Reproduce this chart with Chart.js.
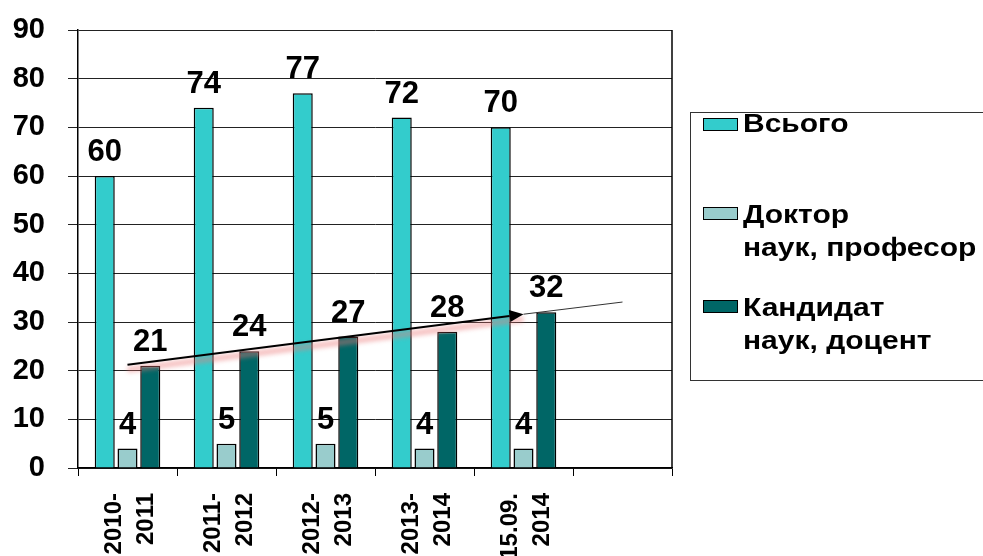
<!DOCTYPE html>
<html>
<head>
<meta charset="utf-8">
<script src="https://cdn.jsdelivr.net/npm/chart.js@4.4.0/dist/chart.umd.min.js"></script>
<style>
  html, body { margin: 0; padding: 0; background: #fff; }
  #wrap { position: relative; width: 983px; height: 556px; overflow: hidden; }
  #legend { position: absolute; left: 690px; top: 112px; width: 320px; height: 269px;
            border: 1px solid #333; box-sizing: border-box; background: #fff; }
  .item { position: absolute; left: 12px; font: bold 25px "Liberation Sans", Arial, sans-serif;
          line-height: 33px; color: #000; }
  .sw { position: absolute; left: 0; top: 9px; width: 35px; height: 13px; border: 1.5px solid #000; box-sizing: border-box; }
  .txt { margin-left: 40px; white-space: nowrap; transform: scaleX(1.2); transform-origin: 0 50%; }
</style>
</head>
<body>
<div id="wrap">
  <canvas id="c" width="983" height="556"></canvas>
  <div id="legend"></div>
</div>
<script>
// ---- data ----
const categories = [["2010-", "2011"], ["2011-", "2012"], ["2012-", "2013"], ["2013-", "2014"], ["15.09.", "2014"], ""];
const totalValues = [60, 74, 77, 72, 70, null];
const doctorValues = [4, 5, 5, 4, 4, null];
const candidateValues = [21, 24, 27, 28, 32, null];
const seriesLabels = [["Всього"], ["Доктор", "наук, професор"], ["Кандидат", "наук, доцент"]];
const yTicks = [0, 10, 20, 30, 40, 50, 60, 70, 80, 90];
// trend arrow: [category index, value]
const trendStart = [0, 21.2];
const trendArrowEnd = [4, 31.6];
const trendLineEnd = [5, 34.1];

const colors = ["#33CCCC", "#99CCCC", "#006666"];
const FONT = '"Liberation Sans", Arial, sans-serif';

const valueLabels = {
  id: 'valueLabels',
  afterDatasetsDraw(chart) {
    const ctx = chart.ctx;
    ctx.save();
    ctx.font = 'bold 31px ' + FONT;
    ctx.fillStyle = '#000';
    ctx.textAlign = 'center';
    ctx.textBaseline = 'alphabetic';
    chart.data.datasets.forEach((ds, di) => {
      chart.getDatasetMeta(di).data.forEach((bar, i) => {
        const v = ds.data[i];
        if (v === null || v === undefined) return;
        ctx.fillText(String(v), bar.x, bar.y - 15);
      });
    });
    ctx.restore();
  }
};

const frameAndTrend = {
  id: 'frameAndTrend',
  afterDatasetsDraw(chart) {
    const ctx = chart.ctx, a = chart.chartArea;
    const xs = chart.scales.x, ys = chart.scales.y;
    ctx.save();
    // right frame line
    ctx.strokeStyle = '#000';
    ctx.lineWidth = 1.5;
    ctx.beginPath();
    ctx.moveTo(a.right, a.top);
    ctx.lineTo(a.right, a.bottom);
    ctx.stroke();

    const p0 = [xs.getPixelForValue(trendStart[0]), ys.getPixelForValue(trendStart[1])];
    const p1 = [xs.getPixelForValue(trendArrowEnd[0]), ys.getPixelForValue(trendArrowEnd[1])];
    const p2 = [xs.getPixelForValue(trendLineEnd[0]), ys.getPixelForValue(trendLineEnd[1])];

    // pink glow
    ctx.save();
    ctx.strokeStyle = 'rgba(235,120,120,0.45)';
    ctx.lineWidth = 6;
    ctx.filter = 'blur(2px)';
    ctx.beginPath();
    ctx.moveTo(p0[0], p0[1] + 5);
    ctx.lineTo(p1[0], p1[1] + 5);
    ctx.stroke();
    ctx.restore();

    // thin continuation
    ctx.strokeStyle = '#333';
    ctx.lineWidth = 1;
    ctx.beginPath();
    ctx.moveTo(p1[0], p1[1]);
    ctx.lineTo(p2[0], p2[1]);
    ctx.stroke();

    // main arrow
    ctx.strokeStyle = '#000';
    ctx.lineWidth = 2;
    const ang = Math.atan2(p1[1] - p0[1], p1[0] - p0[0]);
    const hl = 14, hw = 6;
    const bx = p1[0] - hl * Math.cos(ang), by = p1[1] - hl * Math.sin(ang);
    ctx.beginPath();
    ctx.moveTo(p0[0], p0[1]);
    ctx.lineTo(bx, by);
    ctx.stroke();
    ctx.fillStyle = '#000';
    ctx.beginPath();
    ctx.moveTo(p1[0], p1[1]);
    ctx.lineTo(bx + hw * Math.sin(ang), by - hw * Math.cos(ang));
    ctx.lineTo(bx - hw * Math.sin(ang), by + hw * Math.cos(ang));
    ctx.closePath();
    ctx.fill();
    ctx.restore();
  }
};

const chart = new Chart(document.getElementById('c'), {
  type: 'bar',
  data: {
    labels: categories,
    datasets: [
      { label: seriesLabels[0].join(' '), data: totalValues, backgroundColor: colors[0] },
      { label: seriesLabels[1].join(' '), data: doctorValues, backgroundColor: colors[1] },
      { label: seriesLabels[2].join(' '), data: candidateValues, backgroundColor: colors[2] }
    ].map(d => Object.assign(d, { borderColor: '#000', borderWidth: 1.5, categoryPercentage: 0.69, barPercentage: 0.88 }))
  },
  options: {
    responsive: false,
    animation: false,
    events: [],
    layout: { padding: { top: 30, right: 311, left: 0, bottom: 0 } },
    plugins: { legend: { display: false }, tooltip: { enabled: false } },
    scales: {
      y: {
        min: 0, max: 90,
        afterBuildTicks: (s) => { s.ticks = yTicks.map(v => ({ value: v })); },
        afterFit: (s) => { s.width = 78; s.paddingTop = 0; s.paddingBottom = 0; },
        ticks: { color: '#000', padding: 23, font: { family: FONT, size: 29, weight: 'bold' } },
        grid: { color: '#222', lineWidth: 1, tickLength: 10, drawTicks: true },
        border: { color: '#000', width: 1.5 }
      },
      x: {
        afterFit: (s) => { s.height = 88; },
        ticks: { color: '#000', minRotation: 90, maxRotation: 90, autoSkip: false, padding: 17, labelOffset: -13,
                 font: { family: FONT, size: 24, weight: 'bold', lineHeight: 1.33 } },
        grid: { drawOnChartArea: false, drawTicks: true, tickLength: 8, color: '#000', offset: true },
        border: { color: '#000', width: 1.5 }
      }
    }
  },
  plugins: [valueLabels, frameAndTrend]
});

// HTML legend built from datasets
const leg = document.getElementById('legend');
const tops = [-6, 85, 178];
chart.data.datasets.forEach((ds, i) => {
  const it = document.createElement('div');
  it.className = 'item';
  it.style.top = tops[i] + 'px';
  const sw = document.createElement('div');
  sw.className = 'sw';
  sw.style.background = ds.backgroundColor;
  if (i === 0) sw.style.top = '11px';
  it.appendChild(sw);
  seriesLabels[i].forEach(line => {
    const t = document.createElement('div');
    t.className = 'txt';
    t.textContent = line;
    it.appendChild(t);
  });
  leg.appendChild(it);
});
</script>
</body>
</html>
